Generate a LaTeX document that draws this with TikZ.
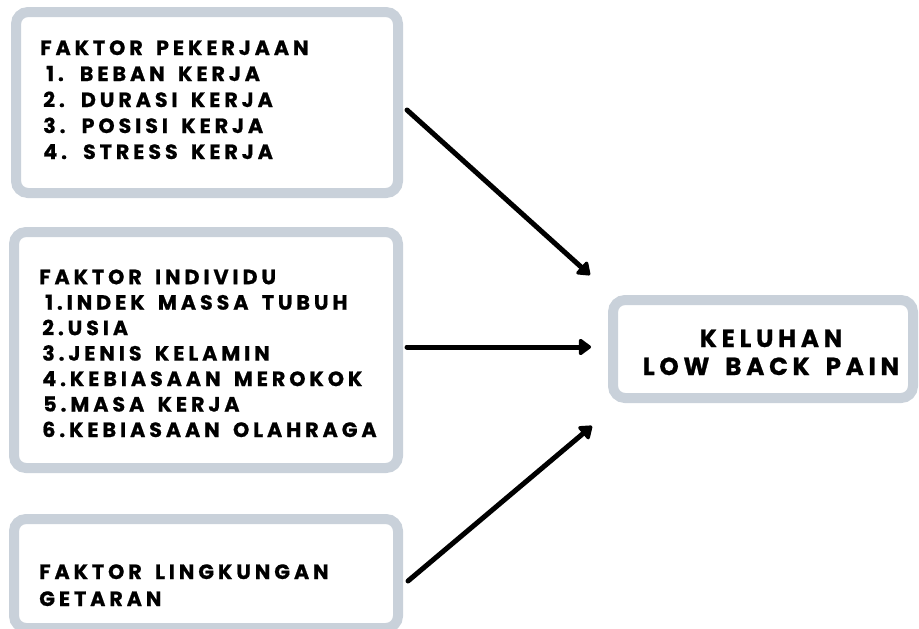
\documentclass[tikz,border=0pt]{standalone}
\usepackage{fontspec}
\usepackage{tikz}
\usetikzlibrary{arrows.meta, positioning, calc}
\newfontfamily\boxfont{Poppins}[LetterSpace=19, WordSpace=1.6, FakeBold=0.8]
\definecolor{boxgray}{RGB}{201,209,218}

\tikzset{
    faktorbox/.style={draw=boxgray, line width=7.5pt, rounded corners=9pt, fill=white, inner sep=0pt},
    boxtext/.style={font=\boxfont\bfseries\fontsize{15.5pt}{19.5pt}\selectfont, align=left, inner sep=0pt, anchor=base west},
    panah/.style={line width=3.75pt, line cap=round, -{Triangle[length=10pt, width=14pt, round]}}
}

\begin{document}
\begin{tikzpicture}[x=0.75pt, y=-0.75pt]
    \useasboundingbox (0,0) rectangle (919,628);
    % kotak faktor
    \node[faktorbox, minimum width=286.5pt, minimum height=135.75pt] (pekerjaan) at (207,102.5) {};
    \node[faktorbox, minimum width=288pt, minimum height=177pt] (individu) at (206,350) {};
    \node[faktorbox, minimum width=288pt, minimum height=81.75pt] (lingkungan) at (206,573.5) {};
    \node[faktorbox, minimum width=225pt, minimum height=73.5pt] (keluhan) at (763,349) {};
    % isi kotak (base = baris terakhir)
    \node[boxtext] (tpekerjaan) at (40,159) {FAKTOR PEKERJAAN\\
        \hspace{4.5pt}1. BEBAN KERJA\\
        \hspace{2.25pt}2. DURASI KERJA\\
        \hspace{2.25pt}3. POSISI KERJA\\
        \hspace{2.25pt}4. STRESS KERJA};
    \node[boxtext, font=\boxfont\bfseries\fontsize{15.5pt}{19.1pt}\selectfont] (tindividu) at (39,437) {FAKTOR INDIVIDU\\
        \hspace{4.5pt}1.INDEK MASSA TUBUH\\
        \hspace{2.25pt}2.USIA\\
        \hspace{2.25pt}3.JENIS KELAMIN\\
        \hspace{2.25pt}4.KEBIASAAN MEROKOK\\
        \hspace{3pt}5.MASA KERJA\\
        \hspace{2.25pt}6.KEBIASAAN OLAHRAGA};
    \node[boxtext, font=\boxfont\bfseries\fontsize{15.5pt}{20.25pt}\selectfont] (tlingkungan) at (39,606) {FAKTOR LINGKUNGAN\\GETARAN};
    \node[boxtext, align=center, anchor=base, font=\boxfont\bfseries\fontsize{18.5pt}{21pt}\selectfont] (tkeluhan) at (771,375) {KELUHAN\\LOW BACK PAIN};
    % panah
    \coordinate (ujung1) at (590,275);
    \coordinate (ujung2) at (591,347);
    \coordinate (ujung3) at (592,426);
    \draw[panah] ([shift={(4,7.5)}]pekerjaan.east) -- (ujung1);
    \draw[panah] ([shift={(4,-3)}]individu.east) -- (ujung2);
    \draw[panah] ([shift={(5,7.5)}]lingkungan.east) -- (ujung3);
\end{tikzpicture}
\end{document}
